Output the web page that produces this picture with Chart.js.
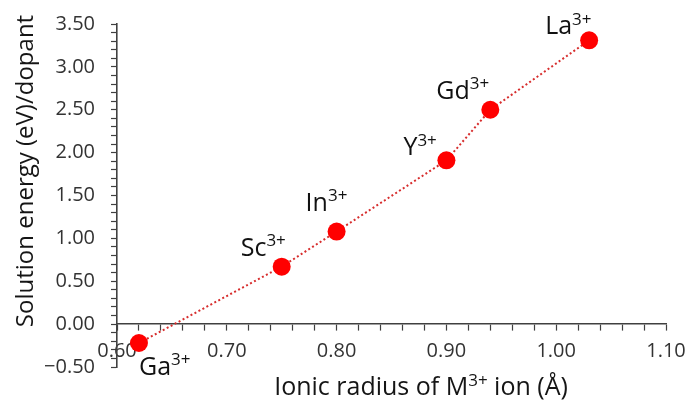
<!DOCTYPE html>
<html>
<head>
<meta charset="utf-8">
<script src="https://cdn.jsdelivr.net/npm/chart.js@4/dist/chart.umd.min.js"></script>
<style>
  html, body { margin: 0; padding: 0; background: #fff; }
  #out { display: block; }
</style>
</head>
<body>
<canvas id="out" width="688" height="405"></canvas>
<script>
// ionic radius (Å) and solution energy (eV) per dopant
const ions = ["Ga", "Sc", "In", "Y", "Gd", "La"];
const radius = [0.62, 0.75, 0.80, 0.90, 0.94, 1.03];
const energy = [-0.22, 0.67, 1.08, 1.91, 2.50, 3.31];

// where each ion label sits relative to its point (px)
const labelOffset = [[0, 32], [-41, -11], [-31, -21], [-43, -5], [-54, -11], [-44, -6]];

const FONT = "'Open Sans', 'DejaVu Sans', sans-serif";
const AXIS_COLOR = "#404040";

// draws a run of text pieces, some of them raised as superscripts
function drawRich(ctx, parts, x, y, size, align) {
  const supSize = Math.round(size * 0.68);
  let total = 0;
  for (const p of parts) {
    ctx.font = (p.sup ? supSize : size) + "px " + FONT;
    total += ctx.measureText(p.t).width;
  }
  let cx = align === "center" ? x - total / 2 : x;
  ctx.textAlign = "left";
  ctx.textBaseline = "alphabetic";
  for (const p of parts) {
    ctx.font = (p.sup ? supSize : size) + "px " + FONT;
    ctx.fillText(p.t, cx, p.sup ? y - size * 0.38 : y);
    cx += ctx.measureText(p.t).width;
  }
}

// keep the plot box fixed by the layout padding alone
function noPad(s) {
  s.paddingTop = 0;
  s.paddingBottom = 0;
  s.paddingLeft = 0;
  s.paddingRight = 0;
}

const ionLabels = {
  id: "ionLabels",
  afterDatasetsDraw(chart) {
    const ctx = chart.ctx;
    const xs = chart.scales.x, ys = chart.scales.y;
    ctx.save();
    ctx.fillStyle = "#111";
    ions.forEach((ion, i) => {
      const px = xs.getPixelForValue(radius[i]) + labelOffset[i][0];
      const py = ys.getPixelForValue(energy[i]) + labelOffset[i][1];
      drawRich(ctx, [{ t: ion }, { t: "3+", sup: true }], px, py, 25, "left");
    });
    ctx.restore();
  }
};

const axisTitles = {
  id: "axisTitles",
  afterDraw(chart) {
    const ctx = chart.ctx;
    ctx.save();
    ctx.fillStyle = "#151515";
    drawRich(ctx, [{ t: "Ionic radius of M" }, { t: "3+", sup: true }, { t: " ion (Å)" }], 421, 395, 25, "center");
    ctx.translate(33, 171);
    ctx.rotate(-Math.PI / 2);
    ctx.font = "24px " + FONT;
    ctx.textAlign = "center";
    ctx.textBaseline = "alphabetic";
    ctx.fillText("Solution energy (eV)/dopant", 0, 0);
    ctx.restore();
  }
};

const points = radius.map((r, i) => ({ x: r, y: energy[i] }));

new Chart(document.getElementById("out").getContext("2d"), {
  type: "scatter",
  data: {
    datasets: [{
      data: points,
      showLine: true,
      borderColor: "rgb(215, 45, 45)",
      borderWidth: 2,
      borderDash: [2, 2.5],
      pointRadius: 9,
      pointHoverRadius: 9,
      pointBackgroundColor: "#ff0000",
      pointBorderWidth: 0
    }]
  },
  options: {
    responsive: false,
    animation: false,
    devicePixelRatio: 1,
    layout: { padding: { top: 24, right: 22, bottom: 38, left: 0 } },
    plugins: { legend: { display: false }, tooltip: { enabled: false } },
    scales: {
      x: {
        type: "linear",
        position: { y: 0 },
        min: 0.6,
        max: 1.1,
        afterFit: noPad,
        grid: { drawOnChartArea: false, color: AXIS_COLOR, tickLength: 6, tickWidth: 1.2 },
        border: { color: AXIS_COLOR, width: 1.6 },
        ticks: {
          stepSize: 0.02,
          autoSkip: false,
          maxRotation: 0,
          padding: 9,
          color: "#333",
          font: { family: FONT, size: 20 },
          callback: v => Math.round(v * 100) % 10 === 0 ? v.toFixed(2) : ""
        }
      },
      y: {
        type: "linear",
        position: "left",
        min: -0.5,
        max: 3.5,
        afterFit: s => { s.width = 117; noPad(s); },
        grid: { drawOnChartArea: false, color: AXIS_COLOR, tickLength: 6, tickWidth: 1.2 },
        border: { color: AXIS_COLOR, width: 1.6 },
        ticks: {
          stepSize: 0.1,
          autoSkip: false,
          padding: 16,
          color: "#333",
          font: { family: FONT, size: 20 },
          callback: v => {
            const t = Math.round(v * 10);
            if (t % 5 !== 0) return "";
            return v < 0 ? "\u2212" + Math.abs(v).toFixed(2) : v.toFixed(2);
          }
        }
      }
    }
  },
  plugins: [ionLabels, axisTitles]
});
</script>
</body>
</html>
